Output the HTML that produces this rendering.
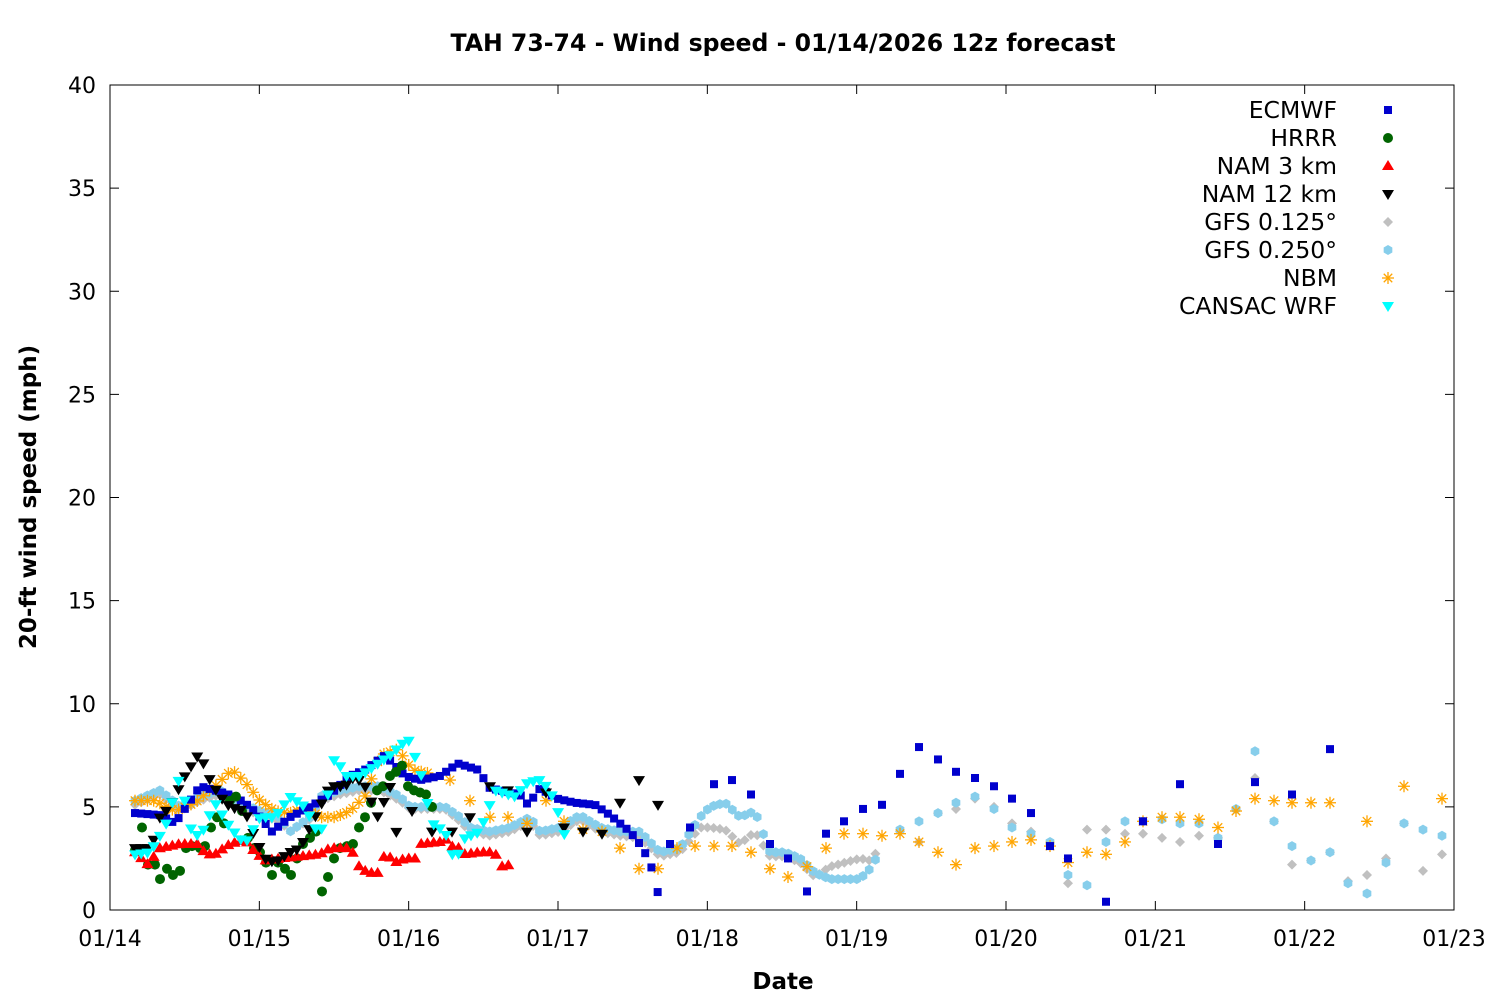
<!DOCTYPE html>
<html><head><meta charset="utf-8"><style>
html,body{margin:0;padding:0;background:#fff;}
svg{display:block;font-family:"DejaVu Sans","Liberation Sans",sans-serif;}
</style></head><body>
<svg id="s" width="1500" height="1000" xmlns="http://www.w3.org/2000/svg">
<rect width="1500" height="1000" fill="#fff"/>
<text x="783" y="51" text-anchor="middle" font-size="23.6" font-weight="bold">TAH 73-74 - Wind speed - 01/14/2026 12z forecast</text>
<text x="783" y="989" text-anchor="middle" font-size="23" font-weight="bold">Date</text>
<text transform="translate(36,497) rotate(-90)" text-anchor="middle" font-size="23" font-weight="bold">20-ft wind speed (mph)</text>
<g id="ax"></g>
<g id="pts"></g>
<g id="leg" font-size="23.5" text-anchor="end"></g>
</svg>
<script>
const NS="http://www.w3.org/2000/svg";
const X0=110,X1=1454,Y0=910,Y1=85;
const yp=v=>Y0-(v/40)*(Y0-Y1);
const ax=document.getElementById('ax');
function el(t,a,p){const e=document.createElementNS(NS,t);for(const k in a)e.setAttribute(k,a[k]);(p||ax).appendChild(e);return e;}
el('rect',{x:X0,y:Y1,width:X1-X0,height:Y0-Y1,fill:'none',stroke:'#000','stroke-width':1});
for(let v=0;v<=40;v+=5){const y=yp(v);
 el('line',{x1:X0,y1:y,x2:X0+9,y2:y,stroke:'#000'});el('line',{x1:X1,y1:y,x2:X1-9,y2:y,stroke:'#000'});
 const t=el('text',{x:96,y:y+8,'text-anchor':'end','font-size':22});t.textContent=v;}
const dl=['01/14','01/15','01/16','01/17','01/18','01/19','01/20','01/21','01/22','01/23'];
for(let i=0;i<10;i++){const x=X0+i*(X1-X0)/9;
 el('line',{x1:x,y1:Y0,x2:x,y2:Y0-9,stroke:'#000'});el('line',{x1:x,y1:Y1,x2:x,y2:Y1+9,stroke:'#000'});
 const t=el('text',{x:x,y:946,'text-anchor':'middle','font-size':22});t.textContent=dl[i];}
const P=document.getElementById('pts');
function mk(type,col,x,y,g){g=g||P;
 if(type=='sq')el('rect',{x:x-4,y:y-4,width:8,height:8,fill:col},g);
 else if(type=='ci')el('circle',{cx:x,cy:y,r:5,fill:col},g);
 else if(type=='up')el('polygon',{points:`${x},${y-6} ${x-6},${y+4} ${x+6},${y+4}`,fill:col},g);
 else if(type=='dn')el('polygon',{points:`${x},${y+6} ${x-6},${y-4} ${x+6},${y-4}`,fill:col},g);
 else if(type=='di')el('polygon',{points:`${x},${y-5} ${x+5},${y} ${x},${y+5} ${x-5},${y}`,fill:col},g);
 else if(type=='hx'){let p=[];for(let i=0;i<6;i++){const a=Math.PI/3*i+Math.PI/6;p.push((x+5*Math.cos(a))+','+(y+5*Math.sin(a)));}el('polygon',{points:p.join(' '),fill:col},g);}
 else if(type=='st'){for(let i=0;i<4;i++){const a=Math.PI/4*i;el('line',{x1:x-6*Math.cos(a),y1:y-6*Math.sin(a),x2:x+6*Math.cos(a),y2:y+6*Math.sin(a),stroke:col,'stroke-width':1.3},g);}}
}
function dense(k,step){const out=[];const a=k[0][0],b=k[k.length-1][0];
 for(let x=a;x<=b+0.1;x+=step){let j=0;while(j<k.length-2&&k[j+1][0]<x)j++;
  const [xa,va]=k[j],[xb,vb]=k[j+1];const t=xb==xa?0:Math.min(1,Math.max(0,(x-xa)/(xb-xa)));
  out.push([x,va+(vb-va)*t]);}return out;}
function draw(type,col,pts){pts.forEach(p=>mk(type,col,p[0],yp(p[1])));}
const H=6.222;
const gfsD=[[135,5.1],[160,5.6],[180,4.8],[200,5.3],[220,5.6],[240,5.0],[260,4.6],[280,4.3],[290,3.8],[310,4.4],[320,5.3],[340,5.6],[360,5.8],[380,5.8],[400,5.3],[410,4.9],[430,4.9],[445,4.9],[460,4.3],[470,3.8],[490,3.6],[510,3.8],[530,4.3],[540,3.6],[560,3.8],[580,4.4],[600,3.8],[620,3.6],[640,3.5],[660,2.6],[680,2.8],[700,4.0],[710,4.0],[725,3.9],[740,3.2],[755,3.8],[770,2.6],[785,2.6],[800,2.3],[815,1.6],[830,2.1],[845,2.3],[860,2.5],[870,2.4],[880,3.0]];
draw('di','#c0c0c0',dense(gfsD,H));
draw('di','#c0c0c0',[[900,3.8],[919,3.3],[938,4.7],[956,4.9],[975,5.4],[994,5.0],[1012,4.2],[1031,3.8],[1050,3.2],[1068,1.3],[1087,3.9],[1106,3.9],[1125,3.7],[1143,3.7],[1162,3.5],[1180,3.3],[1199,3.6],[1218,3.5],[1236,4.9],[1255,6.4],[1274,4.3],[1292,2.2],[1311,2.4],[1330,2.8],[1348,1.4],[1367,1.7],[1386,2.5],[1404,4.2],[1423,1.9],[1442,2.7]]);
const g25=[[135,5.3],[160,5.8],[180,5.0],[200,5.5],[220,5.8],[240,5.2],[260,4.8],[280,4.5],[290,3.8],[310,4.5],[320,5.5],[340,5.8],[360,6.0],[380,6.0],[400,5.5],[410,5.0],[430,5.0],[445,5.0],[460,4.5],[470,4.0],[490,3.8],[510,4.0],[530,4.5],[540,3.8],[560,4.0],[580,4.6],[600,4.0],[620,3.8],[640,3.8],[660,2.8],[680,3.0],[700,4.5],[710,5.0],[725,5.2],[740,4.5],[755,4.8],[770,2.8],[785,2.8],[800,2.5],[815,1.8],[830,1.5],[845,1.5],[860,1.5],[870,2.0],[880,2.8]];
draw('hx','#87ceeb',dense(g25,H));
draw('hx','#87ceeb',[[900,3.9],[919,4.3],[938,4.7],[956,5.2],[975,5.5],[994,4.9],[1012,4.0],[1031,3.7],[1050,3.3],[1068,1.7],[1087,1.2],[1106,3.3],[1125,4.3],[1143,4.3],[1162,4.4],[1180,4.2],[1199,4.2],[1218,3.5],[1236,4.9],[1255,7.7],[1274,4.3],[1292,3.1],[1311,2.4],[1330,2.8],[1348,1.3],[1367,0.8],[1386,2.3],[1404,4.2],[1423,3.9],[1442,3.6]]);
const nbmD=[[135,5.3],[155,5.3],[175,4.8],[195,5.2],[215,6.0],[232,6.8],[245,6.2],[260,5.3],[275,4.8],[290,4.7],[305,5.0],[320,4.5],[335,4.5],[350,4.8],[365,5.5],[380,7.5],[398,7.8],[412,6.8],[432,6.6]];
draw('st','#ffa500',dense(nbmD,H));
draw('st','#ffa500',[[450,6.3],[470,5.3],[490,4.5],[508,4.5],[527,4.2],[546,5.3],[564,4.3],[583,3.9],[602,3.8],[620,3.0],[639,2.0],[658,2.0],[677,3.0],[695,3.1],[714,3.1],[732,3.1],[751,2.8],[770,2.0],[788,1.6],[807,2.1],[826,3.0],[844,3.7],[863,3.7],[882,3.6],[900,3.7],[919,3.3],[938,2.8],[956,2.2],[975,3.0],[994,3.1],[1012,3.3],[1031,3.4],[1050,3.1],[1068,2.3],[1087,2.8],[1106,2.7],[1125,3.3],[1143,4.3],[1162,4.5],[1180,4.5],[1199,4.4],[1218,4.0],[1236,4.8],[1255,5.4],[1274,5.3],[1292,5.2],[1311,5.2],[1330,5.2],[1367,4.3],[1404,6.0],[1442,5.4]]);
const ecD=[[135,4.7],[160,4.6],[175,4.2],[200,6.0],[215,5.8],[235,5.5],[250,5.0],[260,4.5],[272,3.8],[290,4.5],[310,5.0],[330,5.6],[350,6.5],[365,6.8],[385,7.5],[405,6.5],[420,6.3],[440,6.5],[458,7.1],[478,6.8],[490,5.9],[510,5.7],[520,5.6],[528,5.1],[540,5.9],[557,5.4],[575,5.2],[595,5.1],[610,4.6],[630,3.8],[643,3.0],[652,2.0],[658,0.8]];
draw('sq','#0000cd',dense(ecD,H));
draw('sq','#0000cd',[[670,3.2],[690,4.0],[714,6.1],[732,6.3],[751,5.6],[770,3.2],[788,2.5],[807,0.9],[826,3.7],[844,4.3],[863,4.9],[882,5.1],[900,6.6],[919,7.9],[938,7.3],[956,6.7],[975,6.4],[994,6.0],[1012,5.4],[1031,4.7],[1050,3.1],[1068,2.5],[1106,0.4],[1143,4.3],[1180,6.1],[1218,3.2],[1255,6.2],[1292,5.6],[1330,7.8]]);
draw('ci','#006400',[[135,2.9],[142,4.0],[148,2.2],[155,2.2],[160,1.5],[167,2.0],[173,1.7],[180,1.9],[186,3.0],[192,3.1],[200,3.0],[205,3.1],[211,4.0],[217,4.5],[224,4.2],[230,5.3],[236,5.5],[242,4.8],[248,3.5],[254,3.0],[260,2.8],[266,2.3],[272,1.7],[278,2.3],[285,2.0],[291,1.7],[297,2.5],[303,3.2],[310,3.5],[316,3.8],[322,0.9],[328,1.6],[334,2.5],[340,3.0],[347,3.1],[353,3.2],[359,4.0],[365,4.5],[371,5.2],[377,5.8],[383,6.0],[390,6.5],[396,6.7],[402,7.0],[408,6.0],[414,5.8],[420,5.7],[426,5.6],[432,5.0]]);
draw('up','#ff0000',dense([[135,2.8],[148,2.2],[160,3.0],[180,3.2],[200,3.2],[205,2.7],[215,2.7],[230,3.2],[245,3.4],[255,2.8],[265,2.4],[280,2.5],[300,2.6],[320,2.7],[330,3.0],[350,3.0],[355,2.6],[360,2.0],[370,1.8],[380,1.8],[385,2.8],[395,2.3],[405,2.5],[415,2.5],[420,3.2],[440,3.3],[445,3.5],[450,3.1],[460,3.0],[465,2.7],[480,2.8],[495,2.8],[500,2.1],[512,2.2]],H));
draw('dn','#000',dense([[135,3.0],[148,3.0],[155,3.5],[160,4.5],[170,5.0],[180,6.0],[185,6.5],[198,7.5],[205,7.0],[210,6.3],[220,5.5],[230,5.0],[245,4.8],[255,3.5],[265,2.5],[275,2.3],[290,2.8],[300,3.0],[310,4.0],[320,5.0],[330,6.0],[345,6.0],[355,6.5],[365,6.0],[378,4.5],[390,6.0],[398,3.2]],H));
draw('dn','#000',[[412,4.8],[432,3.8],[452,3.8],[470,4.5],[490,6.0],[508,5.8],[527,3.8],[546,5.7],[564,4.0],[583,3.8],[602,3.7],[620,5.2],[639,6.3],[658,5.1]]);
draw('dn','#00ffff',dense([[135,2.7],[150,2.8],[165,4.0],[180,6.5],[190,4.0],[200,3.5],[215,5.2],[230,4.0],[245,3.2],[260,4.5],[275,4.5],[290,5.5],[305,5.0],[320,3.5],[335,7.5],[345,6.5],[360,6.5],[375,7.0],[390,7.5],[408,8.3],[420,6.8],[432,4.2],[445,3.8],[455,2.3],[465,3.5],[480,3.8],[495,5.8],[515,5.5],[528,6.2],[540,6.3],[550,5.8],[560,4.5],[570,2.6]],H));
const L=document.getElementById('leg');
const items=[['ECMWF','sq','#0000cd'],['HRRR','ci','#006400'],['NAM 3 km','up','#ff0000'],['NAM 12 km','dn','#000'],['GFS 0.125°','di','#c0c0c0'],['GFS 0.250°','hx','#87ceeb'],['NBM','st','#ffa500'],['CANSAC WRF','dn','#00ffff']];
items.forEach((it,i)=>{const y=110+i*28;const t=el('text',{x:1337,y:y+8},L);t.textContent=it[0];mk(it[1],it[2],1388,y,L);});
</script>
</body></html>
